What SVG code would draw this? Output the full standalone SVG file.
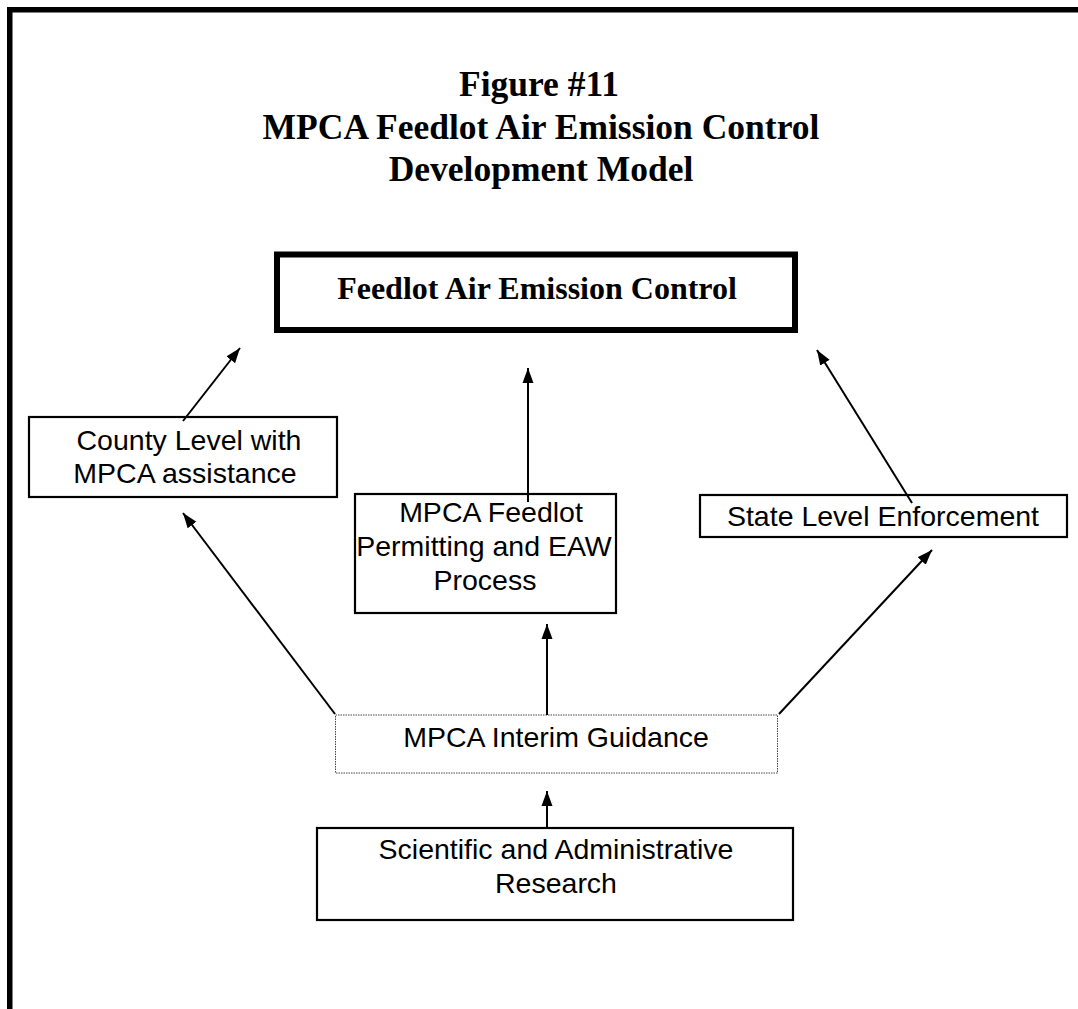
<svg xmlns="http://www.w3.org/2000/svg" width="1078" height="1009" viewBox="0 0 1078 1009">
<style>
.title{font-family:"Liberation Serif","Times New Roman",serif;font-weight:bold;font-size:35.5px;text-anchor:middle;fill:#000}
.main{font-family:"Liberation Serif","Times New Roman",serif;font-weight:bold;font-size:32px;text-anchor:middle;fill:#000}
.lbl{font-family:"Liberation Sans",Arial,sans-serif;font-size:28.5px;text-anchor:middle;fill:#000}
.box{fill:#fff;stroke:#000;stroke-width:2.2}
.conn line{stroke:#000;stroke-width:2;marker-end:url(#ah)}
</style>
<defs>
<marker id="ah" markerUnits="userSpaceOnUse" markerWidth="16" markerHeight="12" refX="15" refY="6" orient="auto">
<path d="M0,0.5 L15,6 L0,11.5 z" fill="#000"/>
</marker>
</defs>
<rect width="1078" height="1009" fill="#fff"/>
<g id="frame">
<line x1="9.75" y1="7" x2="9.75" y2="1009" stroke="#000" stroke-width="5.5"/>
<line x1="7" y1="9.75" x2="1078" y2="9.75" stroke="#000" stroke-width="5.5"/>
</g>
<g id="title">
<text class="title" x="539" y="96">Figure #11</text>
<text class="title" x="541" y="139">MPCA Feedlot Air Emission Control</text>
<text class="title" x="541" y="181">Development Model</text>
</g>
<g id="node-control">
<rect x="277" y="254.5" width="518" height="75.5" fill="#fff" stroke="#000" stroke-width="6"/>
<text class="main" x="537" y="299">Feedlot Air Emission Control</text>
</g>
<g id="node-county">
<rect class="box" x="29" y="417" width="308" height="80"/>
<text class="lbl" x="189" y="450">County Level with</text>
<text class="lbl" x="185" y="483">MPCA assistance</text>
</g>
<g id="node-permitting">
<rect class="box" x="355" y="494" width="261" height="119"/>
<text class="lbl" x="491" y="522">MPCA Feedlot</text>
<text class="lbl" x="484" y="556">Permitting and EAW</text>
<text class="lbl" x="485" y="590">Process</text>
</g>
<g id="node-state">
<rect class="box" x="700" y="495" width="367" height="42"/>
<text class="lbl" x="883" y="526">State Level Enforcement</text>
</g>
<g id="node-interim">
<rect x="335.5" y="715" width="442" height="58" fill="#fff" stroke="#444" stroke-width="1" stroke-dasharray="1.5 1"/>
<text class="lbl" x="556" y="747">MPCA Interim Guidance</text>
</g>
<g id="node-research">
<rect class="box" x="317" y="828" width="476" height="92"/>
<text class="lbl" x="556" y="859">Scientific and Administrative</text>
<text class="lbl" x="556" y="893">Research</text>
</g>
<g id="connectors" class="conn">
<line x1="183" y1="421" x2="240" y2="348"/>
<line x1="528" y1="502" x2="528" y2="368"/>
<line x1="912" y1="503" x2="817" y2="350"/>
<line x1="335" y1="714" x2="183" y2="513"/>
<line x1="547" y1="715" x2="547" y2="624"/>
<line x1="779" y1="714" x2="932" y2="550"/>
<line x1="547" y1="828" x2="547" y2="791"/>
</g>
</svg>
